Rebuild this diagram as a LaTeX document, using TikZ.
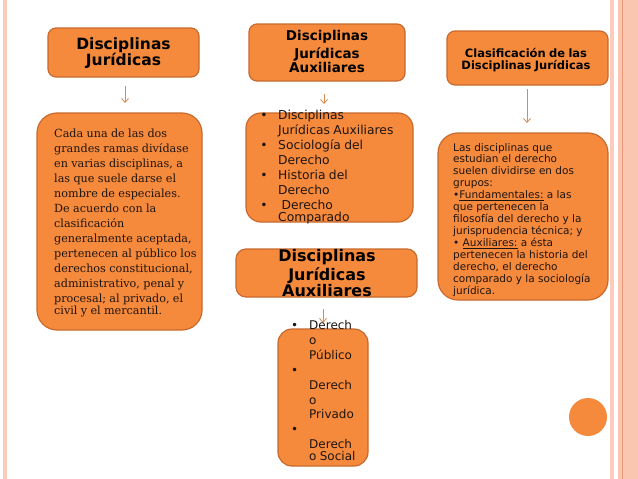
\documentclass[tikz,border=0pt]{standalone}
\usepackage{fontspec}
\setmainfont{DejaVu Sans}
\newfontfamily\serifdj{DejaVu Serif}
\usetikzlibrary{arrows.meta}
\definecolor{boxfill}{HTML}{F68A3C}
\definecolor{boxline}{HTML}{C8692E}
\definecolor{arrcol}{HTML}{D98A4E}
\definecolor{stripe}{HTML}{F9CCBC}
\definecolor{stripedark}{HTML}{FBC6B0}
\definecolor{stripeline}{HTML}{EA9A7C}
\definecolor{txt}{HTML}{1E1410}
\begin{document}
\begin{tikzpicture}[x=1pt,y=-1pt,
  obox/.style={draw=boxline, fill=boxfill, line width=1.2pt, inner sep=0pt},
  tn/.style={inner sep=0pt, text=txt, align=left},
  tc/.style={inner sep=0pt, text=black, align=center},
  arr/.style={draw=arrcol, line width=0.8pt, -{Straight Barb[length=4pt,width=7pt]}}]
\useasboundingbox (0,0) rectangle (638,479);
\fill[white] (0,0) rectangle (638,479);
% page decoration
\fill[stripe] (3,0) rectangle (7,479);
\fill[stripe] (610,0) rectangle (614,479);
\fill[stripedark] (618,0) rectangle (638,479);
\draw[stripeline, line width=1pt] (622,0) -- (622,479);
% boxes
\node[obox, rounded corners=8pt, minimum width=151pt, minimum height=49pt] (b1) at (123.5,52.5) {};
\node[obox, rounded corners=8pt, minimum width=156pt, minimum height=57pt] (b2) at (327,52.5) {};
\node[obox, rounded corners=8pt, minimum width=161pt, minimum height=54pt] (b3) at (527.5,58) {};
\node[obox, rounded corners=20pt, minimum width=165pt, minimum height=217pt] (b4) at (119.5,221.5) {};
\node[obox, rounded corners=15pt, minimum width=167pt, minimum height=109pt] (b5) at (329.5,167.5) {};
\node[obox, rounded corners=20pt, minimum width=170pt, minimum height=167pt] (b6) at (523,216.5) {};
\node[obox, rounded corners=10pt, minimum width=181pt, minimum height=48pt] (b7) at (326.5,273) {};
\node[obox, rounded corners=14pt, minimum width=90pt, minimum height=137pt] (b8) at (323,397.5) {};
\fill[boxfill] (588,417) circle (19);
% arrows
\coordinate (a1s) at (125,86); \coordinate (a1e) at (125,103);
\coordinate (a2s) at (324,94); \coordinate (a2e) at (324,104);
\coordinate (a3s) at (527,89); \coordinate (a3e) at (527,123);
\coordinate (a4s) at (323,309); \coordinate (a4e) at (323,323);
\draw[arr] (a1s) -- (a1e);
\draw[arr] (a2s) -- (a2e);
\draw[arr] (a3s) -- (a3e);
\draw[arr] (a4s) -- (a4e);
% texts
\node[tc, text width=150pt, anchor=base] (t1) at (123.5,49)
  {\fontsize{15.5}{20}\selectfont\bfseries Disciplinas\\Jurídicas};
\node[tc, text width=156pt, anchor=base] (t2) at (327,41)
  {\fontsize{13.5}{17.5}\selectfont\bfseries Disciplinas\\Jurídicas\\Auxiliares};
\node[tc, text width=160pt, anchor=base] (t3) at (526,57.5)
  {\fontsize{11.5}{14}\selectfont\bfseries Clasificación de las\\Disciplinas Jurídicas};
\node[tc, text width=181pt, anchor=base] (t7) at (327,261)
  {\fontsize{16}{19}\selectfont\bfseries Disciplinas\\Jurídicas\\Auxiliares};
\node[tn, text width=160pt, anchor=base west] (t5) at (258,119.5)
  {\fontsize{12.3}{15}\selectfont
   \makebox[20pt][l]{\,•}Disciplinas\\
   \hspace*{20pt}Jurídicas Auxiliares\\
   \makebox[20pt][l]{\,•}Sociología del\\
   \hspace*{20pt}Derecho\\
   \makebox[20pt][l]{\,•}Historia del\\
   \hspace*{20pt}Derecho\\
   \makebox[20pt][l]{\,•}\ Derecho\\
   \hspace*{20pt}Comparado};
\node[tn, text width=90pt, anchor=base west] (t8) at (289,329.5)
  {\fontsize{12}{14.9}\selectfont
   \makebox[20pt][l]{\,•}Derech\\
   \hspace*{20pt}o\\
   \hspace*{20pt}Público\\
   \makebox[20pt][l]{\,•}\\
   \hspace*{20pt}Derech\\
   \hspace*{20pt}o\\
   \hspace*{20pt}Privado\\
   \makebox[20pt][l]{\,•}\\
   \hspace*{20pt}Derech\\
   \hspace*{20pt}o Social};
\node[tn, text width=160pt, anchor=base west] (t4) at (54,137)
  {\serifdj\fontsize{11.2}{15}\selectfont
   Cada una de las dos\\
   grandes ramas divídase\\
   en varias disciplinas, a\\
   las que suele darse el\\
   nombre de especiales.\\
   De acuerdo con la\\
   clasificación\\
   generalmente aceptada,\\
   pertenecen al público los\\
   derechos constitucional,\\
   administrativo, penal y\\
   procesal; al privado, el\\
   civil y el mercantil.};
\node[tn, text width=160pt, anchor=base west] (t6) at (453,151)
  {\fontsize{10.5}{11.95}\selectfont
   Las disciplinas que\\
   estudian el derecho\\
   suelen dividirse en dos\\
   grupos:\\
   •\underline{Fundamentales:} a las\\
   que pertenecen la\\
   filosofía del derecho y la\\
   jurisprudencia técnica; y\\
   • \underline{Auxiliares:} a ésta\\
   pertenecen la historia del\\
   derecho, el derecho\\
   comparado y la sociología\\
   jurídica.};
\end{tikzpicture}
\end{document}
